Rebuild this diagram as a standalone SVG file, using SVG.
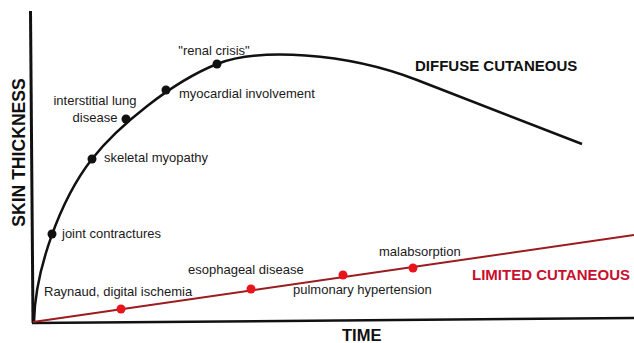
<svg xmlns="http://www.w3.org/2000/svg" width="634" height="343" viewBox="0 0 634 343">
<style>
.lbl{font-family:"Liberation Sans",Arial,sans-serif;font-size:13px;fill:#1a1a1a}
.ttl{font-family:"Liberation Sans",Arial,sans-serif;font-weight:bold;fill:#111}
.red{fill:#c8102e}
.bdot{fill:#111}
.rdot{fill:#e8141c}
</style>
<rect width="634" height="343" fill="#fff"/>
<g id="axes" stroke="#111" fill="none">
<line x1="30.5" y1="11" x2="33" y2="323" stroke-width="3"/>
<line x1="32" y1="323" x2="634" y2="318" stroke-width="2.5"/>
</g>
<g id="connectors" fill="none">
<path id="diffuse-curve" d="M34,322 C35,270 60,200 92,159 C117.6,126.2 172,82 217,64 C258,48 345,52 417,80 L582,144" stroke="#111" stroke-width="2.5"/>
<line id="limited-line" x1="33" y1="322" x2="634" y2="235" stroke="#9b1b1f" stroke-width="2"/>
</g>
<g id="joint-contractures"><circle class="bdot" cx="52" cy="234" r="4.5"/><text class="lbl" x="62" y="238">joint contractures</text></g>
<g id="skeletal-myopathy"><circle class="bdot" cx="92" cy="159" r="4.5"/><text class="lbl" x="104" y="162">skeletal myopathy</text></g>
<g id="interstitial-lung"><circle class="bdot" cx="126" cy="119" r="4.5"/><text class="lbl" x="95" y="105" text-anchor="middle">interstitial lung</text><text class="lbl" x="95" y="122" text-anchor="middle">disease</text></g>
<g id="myocardial"><circle class="bdot" cx="166" cy="90" r="4.5"/><text class="lbl" x="179" y="98">myocardial involvement</text></g>
<g id="renal-crisis"><circle class="bdot" cx="217" cy="64" r="4.5"/><text class="lbl" x="214" y="55" text-anchor="middle">"renal crisis"</text></g>
<g id="raynaud"><circle class="rdot" cx="121" cy="309" r="4.5"/><text class="lbl" x="44" y="296">Raynaud, digital ischemia</text></g>
<g id="esophageal"><circle class="rdot" cx="251" cy="289" r="4.5"/><text class="lbl" x="188" y="274">esophageal disease</text></g>
<g id="pulmonary"><circle class="rdot" cx="343" cy="275" r="4.5"/><text class="lbl" x="293" y="294">pulmonary hypertension</text></g>
<g id="malabsorption"><circle class="rdot" cx="413" cy="268" r="4.5"/><text class="lbl" x="379" y="256">malabsorption</text></g>
<g id="titles">
<text class="ttl" x="415" y="71" font-size="15">DIFFUSE CUTANEOUS</text>
<text class="ttl red" x="472" y="280" font-size="15">LIMITED CUTANEOUS</text>
<text class="ttl" x="342" y="341" font-size="16.5">TIME</text>
<text class="ttl" x="25" y="152.5" font-size="17.6" text-anchor="middle" transform="rotate(-90 25 152.5)">SKIN THICKNESS</text>
</g>
</svg>
